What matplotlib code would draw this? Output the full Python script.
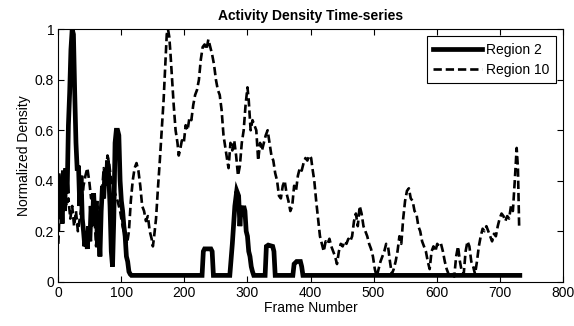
import matplotlib
matplotlib.use("Agg")
import matplotlib.pyplot as plt

plt.rcParams['font.family'] = ['Liberation Sans', 'DejaVu Sans']
plt.rcParams['font.size'] = 10
plt.rcParams['lines.scale_dashes'] = False

title = "Activity Density Time-series"
xlabel = "Frame Number"
ylabel = "Normalized Density"
series_names = ["Region 2", "Region 10"]
xticks = [0, 100, 200, 300, 400, 500, 600, 700, 800]
yticks = [0, 0.2, 0.4, 0.6, 0.8, 1]
ytick_labels = ["0", "0.2", "0.4", "0.6", "0.8", "1"]

frames_r2 = [0, 2, 4, 6, 8, 10, 12, 14, 16, 18, 20, 22, 24, 26, 28, 30, 32, 34, 36, 38,
             40, 42, 44, 46, 48, 50, 52, 54, 56, 58, 60, 62, 64, 66, 68, 70, 72, 74, 76, 78,
             80, 82, 84, 86, 88, 90, 92, 94, 96, 98, 100, 102, 104, 106, 108, 110, 112, 114, 116,
             228, 230, 232, 242, 244, 246,
             272, 276, 280, 283, 286, 288, 290, 292, 294, 296, 298, 300, 302, 304, 306, 308, 310,
             328, 330, 333, 340, 342, 344,
             372, 374, 378, 384, 386, 388, 732]
values_r2 = [0.42, 0.25, 0.40, 0.23, 0.44, 0.28, 0.45, 0.35, 0.62, 0.75, 0.92, 1.0, 0.98, 0.75, 0.55, 0.44, 0.46, 0.30, 0.42, 0.25,
             0.20, 0.14, 0.18, 0.13, 0.22, 0.16, 0.30, 0.22, 0.35, 0.25, 0.32, 0.15, 0.22, 0.10, 0.28, 0.38, 0.33, 0.44, 0.38, 0.48,
             0.42, 0.30, 0.12, 0.06, 0.25, 0.55, 0.60, 0.60, 0.58, 0.40, 0.32, 0.28, 0.22, 0.18, 0.10, 0.08, 0.04, 0.03, 0.025,
             0.025, 0.12, 0.13, 0.13, 0.12, 0.025,
             0.025, 0.15, 0.30, 0.36, 0.34, 0.22, 0.30, 0.26, 0.30, 0.28, 0.20, 0.18, 0.12, 0.10, 0.06, 0.04, 0.025,
             0.025, 0.14, 0.145, 0.14, 0.12, 0.025,
             0.025, 0.07, 0.08, 0.08, 0.06, 0.025, 0.025]

frames_r10 = [0, 2, 4, 6, 8, 10, 13, 16, 19, 22, 25, 28, 31, 34, 37, 40, 43, 46, 49, 52,
              55, 58, 60, 62, 64, 66, 68, 70, 72, 75, 78, 80, 83, 86, 90, 94, 98, 102, 106, 109,
              112, 115, 118, 121, 124, 127, 130, 133, 136, 139, 142, 145, 148, 150, 152, 155, 158, 161, 164, 167,
              170, 172, 174, 176, 178, 180, 183, 186, 189, 191, 193, 196, 199, 202, 205, 208, 211, 214, 217, 220,
              223, 226, 229, 232, 235, 238, 241, 244, 247, 250, 253, 256, 259, 262, 265, 268,
              270, 273, 276, 279, 282, 285, 288, 291, 294, 297, 300, 302, 305, 308, 311, 314, 317, 320, 323, 326,
              329, 332, 335, 338, 341, 344, 347, 350, 353, 356, 359, 362, 365, 368, 371, 374, 377, 380, 383, 386,
              389, 392, 395, 398, 401, 403, 406, 409, 412, 415, 418, 421, 424, 427, 430, 433, 436, 439, 442, 445,
              448, 451, 454, 457, 460, 463, 466, 469, 472, 475, 478, 481, 484, 487, 490, 493, 496, 499, 502, 505,
              508, 511, 514, 517, 520, 523, 526, 529, 532, 535, 538, 541, 544, 547, 550, 553, 556, 559, 562, 565,
              568, 571, 574, 577, 580, 583, 586, 589, 592, 595, 598, 601, 604, 607, 610, 613, 616, 619, 622, 625,
              628, 631, 634, 637, 640, 643, 646, 649, 652, 655, 658, 661, 664, 667, 670, 673, 676, 679, 682, 685,
              688, 691, 694, 697, 700, 703, 706, 709, 712, 715, 718, 721, 724, 727, 729, 731]
values_r10 = [0.15, 0.28, 0.40, 0.43, 0.35, 0.38, 0.30, 0.33, 0.25, 0.30, 0.22, 0.28, 0.20, 0.25, 0.30, 0.38, 0.42, 0.45, 0.40, 0.33,
              0.35, 0.22, 0.14, 0.30, 0.20, 0.12, 0.25, 0.38, 0.45, 0.42, 0.50, 0.48, 0.42, 0.38, 0.35, 0.32, 0.28, 0.22, 0.18, 0.15,
              0.20, 0.32, 0.40, 0.45, 0.47, 0.44, 0.38, 0.30, 0.28, 0.24, 0.26, 0.20, 0.17, 0.14, 0.18, 0.25, 0.37, 0.48, 0.60, 0.72,
              0.88, 0.98, 1.0, 0.97, 0.90, 0.82, 0.70, 0.60, 0.55, 0.50, 0.52, 0.56, 0.55, 0.62, 0.60, 0.65, 0.64, 0.70, 0.74, 0.76,
              0.80, 0.88, 0.93, 0.94, 0.92, 0.96, 0.93, 0.90, 0.86, 0.80, 0.76, 0.74, 0.68, 0.58, 0.53, 0.48,
              0.45, 0.55, 0.52, 0.56, 0.50, 0.42, 0.46, 0.55, 0.60, 0.70, 0.77, 0.72, 0.60, 0.64, 0.62, 0.60, 0.48, 0.55, 0.52, 0.55,
              0.58, 0.60, 0.55, 0.50, 0.48, 0.43, 0.40, 0.34, 0.33, 0.38, 0.40, 0.35, 0.32, 0.28, 0.30, 0.38, 0.36, 0.42, 0.45, 0.44,
              0.47, 0.49, 0.48, 0.50, 0.49, 0.45, 0.40, 0.32, 0.25, 0.18, 0.15, 0.12, 0.16, 0.15, 0.17, 0.14, 0.12, 0.10, 0.07, 0.12,
              0.15, 0.14, 0.16, 0.15, 0.17, 0.16, 0.18, 0.24, 0.27, 0.22, 0.30, 0.27, 0.22, 0.20, 0.18, 0.15, 0.13, 0.10, 0.05, 0.02,
              0.05, 0.08, 0.10, 0.12, 0.15, 0.14, 0.08, 0.03, 0.05, 0.08, 0.12, 0.18, 0.15, 0.25, 0.32, 0.36, 0.37, 0.33, 0.32, 0.28,
              0.27, 0.22, 0.20, 0.16, 0.14, 0.12, 0.08, 0.05, 0.12, 0.14, 0.12, 0.15, 0.14, 0.15, 0.12, 0.08, 0.05, 0.03, 0.02, 0.03,
              0.02, 0.10, 0.14, 0.08, 0.04, 0.03, 0.12, 0.16, 0.14, 0.08, 0.06, 0.03, 0.08, 0.14, 0.18, 0.21, 0.20, 0.22, 0.20, 0.18,
              0.16, 0.19, 0.18, 0.22, 0.25, 0.27, 0.26, 0.24, 0.26, 0.25, 0.30, 0.28, 0.40, 0.53, 0.45, 0.21]

fig = plt.figure(figsize=(5.74, 3.26), dpi=100)
ax = fig.add_axes([0.1016, 0.1359, 0.8787, 0.7742])

ax.plot(frames_r2, values_r2, color='black', linewidth=3.4, solid_joinstyle='miter',
        label=series_names[0])
ax.plot(frames_r10, values_r10, color='black', linewidth=1.9, linestyle=(0, (6.0, 2.8)),
        label=series_names[1])

ax.set_xlim(0, 800)
ax.set_ylim(0, 1)
ax.set_xticks(xticks)
ax.set_xticklabels([str(t) for t in xticks])
ax.set_yticks(yticks)
ax.set_yticklabels(ytick_labels)
ax.tick_params(direction='in', top=True, right=True, length=4, width=0.8,
               labelsize=10, pad=3)
for s in ax.spines.values():
    s.set_linewidth(0.8)

ax.set_title(title, fontsize=10, fontweight='bold', pad=7)
ax.set_xlabel(xlabel, fontsize=10, labelpad=1)
ax.set_ylabel(ylabel, fontsize=10, labelpad=3)

leg = ax.legend(loc='upper right', fancybox=False, edgecolor='black', framealpha=1,
                handlelength=3.5, handletextpad=0.3, borderpad=0.45, labelspacing=0.45,
                borderaxespad=0.5, fontsize=10)
leg.get_frame().set_linewidth(0.8)

fig.savefig("out.png", dpi=100, facecolor='white')
